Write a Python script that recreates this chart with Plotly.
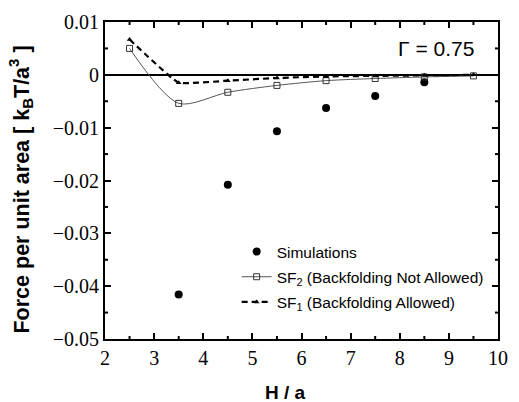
import plotly.graph_objects as go

# Separation H/a
h_sim = [3.5, 4.5, 5.5, 6.5, 7.5, 8.5]
f_sim = [-0.0416, -0.0208, -0.0107, -0.0063, -0.0040, -0.0014]

h_sf = [2.5, 3.5, 4.5, 5.5, 6.5, 7.5, 8.5, 9.5]
f_sf2 = [0.0050, -0.0054, -0.0033, -0.0020, -0.0011, -0.0007, -0.0004, -0.0002]
f_sf1 = [0.0067, -0.0015, -0.0011, -0.0006, -0.0003, -0.0002, -0.0001, 0.0000]

x_ticks = [2, 3, 4, 5, 6, 7, 8, 9, 10]
x_tick_text = ["2", "3", "4", "5", "6", "7", "8", "9", "10"]
x_minor_ticks = [2.5, 3.5, 4.5, 5.5, 6.5, 7.5, 8.5, 9.5]
y_ticks = [0.01, 0, -0.01, -0.02, -0.03, -0.04, -0.05]
y_tick_text = ["0.01", "0", "\u22120.01", "\u22120.02", "\u22120.03", "\u22120.04", "\u22120.05"]
y_minor_ticks = [0.005, -0.005, -0.015, -0.025, -0.035, -0.045]

SERIF = "Liberation Serif"
SANS = "Liberation Sans"
INK = "#010101"

fig = go.Figure()

fig.add_trace(go.Scatter(
    x=h_sim, y=f_sim, mode="markers", name="Simulations", legendgroup="a",
    marker=dict(symbol="circle", size=8, color="black"),
))
fig.add_trace(go.Scatter(
    x=h_sf, y=f_sf2, mode="lines+markers", legendgroup="b",
    name="SF<sub>2</sub> (Backfolding Not Allowed)",
    line=dict(color="#555555", width=1, shape="spline", smoothing=0.8),
    marker=dict(symbol="square-open", size=6, color="#333333", line=dict(width=1)),
))
fig.add_trace(go.Scatter(
    x=h_sf, y=f_sf1, mode="lines+markers", legendgroup="c",
    name="SF<sub>1</sub> (Backfolding Allowed)",
    line=dict(color="black", width=2.2, dash="6px,4px", shape="spline", smoothing=0.3),
    marker=dict(symbol="triangle-up", size=5, color="black"),
))

fig.update_layout(
    xaxis=dict(
        range=[2, 10], tickmode="array", tickvals=x_ticks, ticktext=x_tick_text,
        ticks="inside", ticklen=6, tickwidth=2, tickcolor="black",
        showline=True, linecolor="black", linewidth=2, mirror="allticks",
        showgrid=False, zeroline=False,
        tickfont=dict(family=SERIF, size=20, color=INK),
    ),
    yaxis=dict(
        range=[-0.05, 0.01], tickmode="array", tickvals=y_ticks, ticktext=y_tick_text,
        ticks="inside", ticklen=6, tickwidth=2, tickcolor="black",
        showline=True, linecolor="black", linewidth=2, mirror="allticks",
        showgrid=False,
        zeroline=True, zerolinecolor="black", zerolinewidth=1.5,
        tickfont=dict(family=SERIF, size=20, color=INK),
    ),
)

# short half-step ticks on all four sides of the frame
tick_line = dict(color="black", width=2)
for v in x_minor_ticks:
    for anchor, d in ((0, 3), (1, -3)):
        fig.add_shape(type="line", xref="x", yref="y domain",
                      ysizemode="pixel", yanchor=anchor,
                      x0=v, x1=v, y0=0, y1=d, line=tick_line)
for v in y_minor_ticks:
    for anchor, d in ((0, 3), (1, -3)):
        fig.add_shape(type="line", xref="x domain", yref="y",
                      xsizemode="pixel", xanchor=anchor,
                      x0=0, x1=d, y0=v, y1=v, line=tick_line)

fig.update_layout(
    width=519, height=402,
    margin=dict(l=105, r=11, t=16, b=63),
    paper_bgcolor="white", plot_bgcolor="white",
    showlegend=True,
    legend=dict(
        x=0.335, y=0.328, xanchor="left", yanchor="top",
        bgcolor="rgba(0,0,0,0)", borderwidth=0,
        font=dict(family=SANS, size=15.5, color="black"),
        tracegroupgap=2, itemwidth=30,
    ),
    annotations=[
        dict(text="\u0393 = 0.75", x=0.945, y=0.915, xref="paper", yref="paper",
             xanchor="right", yanchor="middle", showarrow=False,
             font=dict(family=SANS, size=21, color="black")),
        dict(text="<b>H / a</b>", x=0.46, y=-0.17, xref="paper", yref="paper",
             xanchor="center", yanchor="middle", showarrow=False,
             font=dict(family=SANS, size=19, color="black")),
        dict(text="<b>Force per unit area [ k<sub>B</sub>T/a<sup>3</sup> ]</b>",
             x=-0.215, y=0.47, xref="paper", yref="paper", textangle=-90,
             xanchor="center", yanchor="middle", showarrow=False,
             font=dict(family=SANS, size=21.5, color="black")),
    ],
)

fig.write_html("out.html")
